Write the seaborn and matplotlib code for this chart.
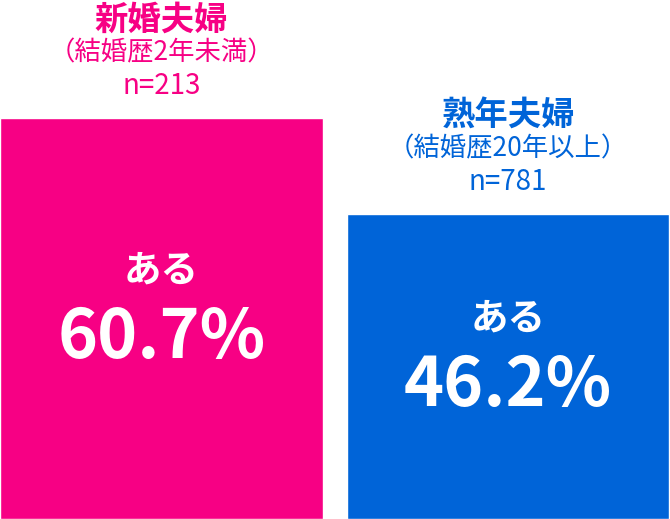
import matplotlib
matplotlib.use("Agg")
import matplotlib.pyplot as plt
import seaborn as sns
import pandas as pd

# データ
groups = ["新婚夫婦", "熟年夫婦"]
subtitles = ["（結婚歴2年未満）", "（結婚歴20年以上）"]
counts = [213, 781]
values = [60.7, 46.2]
colors = ["#F70084", "#0064D8"]

df = pd.DataFrame({"group": groups, "value": values})

sns.set_theme(style="white")
plt.rcParams["font.family"] = ["Noto Sans CJK JP", "DejaVu Sans"]

fig = plt.figure(figsize=(6.7, 5.19), dpi=100)
ax = fig.add_axes([0, 0, 1, 1])

sns.barplot(data=df, x="group", y="value", hue="group", palette=colors,
            width=0.932, legend=False, ax=ax, saturation=1)

ax.set_xlim(-0.466, 1.4675)
ax.set_ylim(0, 60.7 * 519 / 401)
ax.axis("off")

for i, (g, s, n, v, c) in enumerate(zip(groups, subtitles, counts, values, colors)):
    # 上のラベル
    ax.annotate(g, (i, v), xytext=(0, 98), textcoords="offset pixels",
                ha="center", va="center", fontsize=24, fontweight="bold", color=c)
    ax.annotate(s, (i, v), xytext=(0, 65), textcoords="offset pixels",
                ha="center", va="center", fontsize=19, color=c)
    ax.annotate(f"n={n}", (i, v), xytext=(0, 32), textcoords="offset pixels",
                ha="center", va="center", fontsize=20, color=c)
    # 棒の中
    ax.annotate("ある", (i, v / 2), xytext=(0, 48), textcoords="offset pixels",
                ha="center", va="center", fontsize=27, fontweight="bold", color="white")
    ax.annotate(f"{v}%", (i, v / 2), xytext=(0, -20), textcoords="offset pixels",
                ha="center", va="center", fontsize=49, fontweight="bold", color="white")

plt.savefig("out.png", dpi=100)
plt.close("all")
